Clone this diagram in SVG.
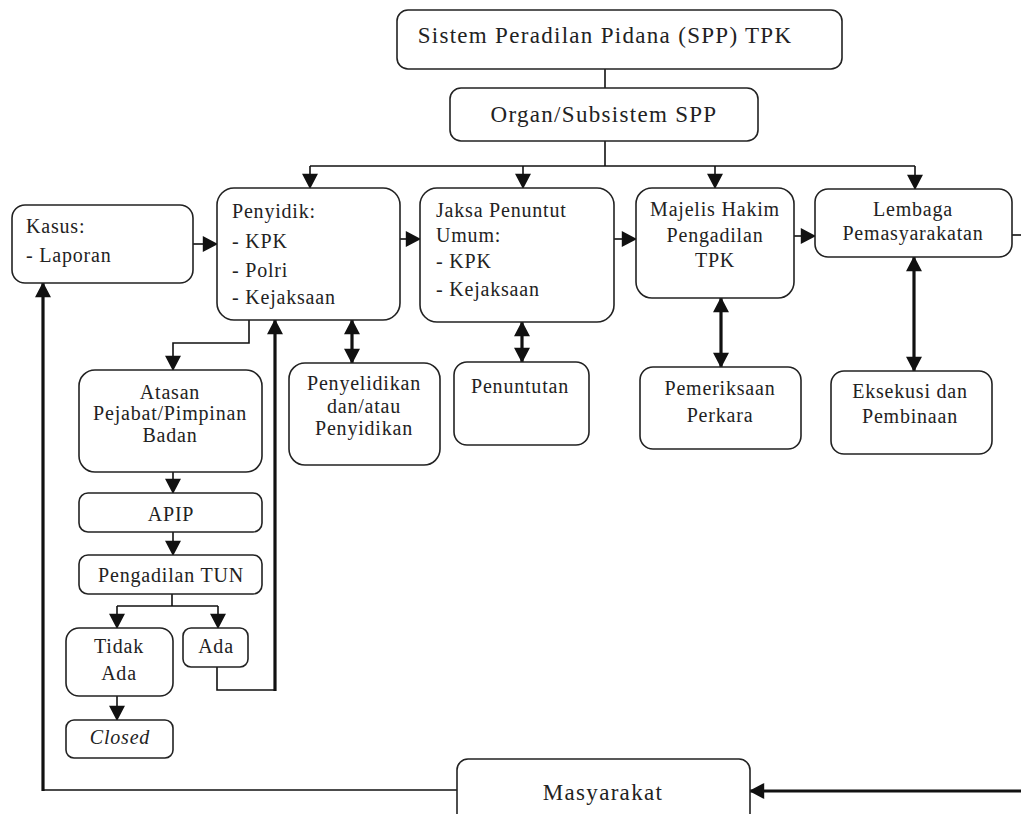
<svg xmlns="http://www.w3.org/2000/svg" width="1021" height="814" viewBox="0 0 1021 814">
<style>
.box{fill:#fff;stroke:#222;stroke-width:1.6}
.t{font-family:"Liberation Serif","Times New Roman",serif;font-size:20px;letter-spacing:0.8px;fill:#222}
.tt{font-family:"Liberation Serif","Times New Roman",serif;font-size:23px;letter-spacing:1.3px;fill:#222}
.m{text-anchor:middle}
.c{fill:none;stroke:#111;stroke-width:1.6}
.k{fill:none;stroke:#111;stroke-width:3.2}
.ahp{fill:#111;stroke:#111;stroke-width:2.4;stroke-linejoin:miter}
</style>
<defs>
<marker id="ah" markerUnits="userSpaceOnUse" markerWidth="20" markerHeight="20" refX="0" refY="0" orient="auto-start-reverse" overflow="visible">
<path class="ahp" d="M-1.5,0 L-13,-6 L-13,6 Z"/>
</marker>
</defs>
<rect width="1021" height="814" fill="#fff"/>
<g id="connectors">
<line class="c" x1="605" y1="69" x2="605" y2="88"/>
<line class="c" x1="605" y1="141" x2="605" y2="166"/>
<line class="c" x1="310" y1="166" x2="915" y2="166"/>
<line class="c" x1="310" y1="166" x2="310" y2="188" marker-end="url(#ah)"/>
<line class="c" x1="523" y1="166" x2="523" y2="188" marker-end="url(#ah)"/>
<line class="c" x1="715" y1="166" x2="715" y2="188" marker-end="url(#ah)"/>
<line class="c" x1="915" y1="166" x2="915" y2="189" marker-end="url(#ah)"/>
<line class="c" x1="193" y1="244" x2="217" y2="244" marker-end="url(#ah)"/>
<line class="c" x1="400" y1="239" x2="420" y2="239" marker-end="url(#ah)"/>
<line class="c" x1="614" y1="239" x2="636" y2="239" marker-end="url(#ah)"/>
<line class="c" x1="794" y1="236" x2="815" y2="236" marker-end="url(#ah)"/>
<line class="c" x1="1012" y1="235" x2="1021" y2="235"/>
<polyline class="c" points="249,320 249,343 173,343 173,370" marker-end="url(#ah)"/>
<line class="k" x1="352" y1="320" x2="352" y2="363" marker-start="url(#ah)" marker-end="url(#ah)"/>
<line class="k" x1="522" y1="322" x2="522" y2="362" marker-start="url(#ah)" marker-end="url(#ah)"/>
<line class="k" x1="721" y1="298" x2="721" y2="367" marker-start="url(#ah)" marker-end="url(#ah)"/>
<line class="k" x1="914" y1="257" x2="914" y2="371" marker-start="url(#ah)" marker-end="url(#ah)"/>
<line class="c" x1="173" y1="472" x2="173" y2="493" marker-end="url(#ah)"/>
<line class="c" x1="173" y1="532" x2="173" y2="555" marker-end="url(#ah)"/>
<line class="c" x1="172" y1="594" x2="172" y2="606"/>
<line class="c" x1="117" y1="606" x2="218" y2="606"/>
<line class="c" x1="117" y1="606" x2="117" y2="628" marker-end="url(#ah)"/>
<line class="c" x1="218" y1="606" x2="218" y2="628" marker-end="url(#ah)"/>
<polyline class="c" points="217,667 217,690 275,690"/>
<line class="k" x1="275" y1="691" x2="275" y2="320" marker-end="url(#ah)"/>
<line class="c" x1="117" y1="696" x2="117" y2="720" marker-end="url(#ah)"/>
<line class="c" x1="457" y1="790" x2="43" y2="790"/>
<line class="k" x1="43" y1="791" x2="43" y2="283" marker-end="url(#ah)"/>
<line class="k" x1="1021" y1="791" x2="750" y2="791" marker-end="url(#ah)"/>
</g>
<g id="sistem"><rect class="box" x="397" y="10" width="445" height="59" rx="11"/><text class="tt m" x="605" y="43">Sistem Peradilan Pidana (SPP) TPK</text></g>
<g id="organ"><rect class="box" x="450" y="88" width="308" height="53" rx="11"/><text class="tt m" x="604" y="122">Organ/Subsistem SPP</text></g>
<g id="kasus"><rect class="box" x="12" y="205" width="181" height="78" rx="13"/><text class="t" x="26" y="233">Kasus:</text><text class="t" x="26" y="262">- Laporan</text></g>
<g id="penyidik"><rect class="box" x="217" y="188" width="183" height="132" rx="17"/><text class="t" x="232" y="218">Penyidik:</text><text class="t" x="232" y="248">- KPK</text><text class="t" x="232" y="277">- Polri</text><text class="t" x="232" y="304">- Kejaksaan</text></g>
<g id="jaksa"><rect class="box" x="420" y="188" width="194" height="134" rx="17"/><text class="t" x="436" y="217">Jaksa Penuntut</text><text class="t" x="436" y="242">Umum:</text><text class="t" x="436" y="268">- KPK</text><text class="t" x="436" y="296">- Kejaksaan</text></g>
<g id="majelis"><rect class="box" x="636" y="188" width="158" height="110" rx="16"/><text class="t m" x="715" y="216">Majelis Hakim</text><text class="t m" x="715" y="242">Pengadilan</text><text class="t m" x="715" y="267">TPK</text></g>
<g id="lembaga"><rect class="box" x="815" y="189" width="197" height="68" rx="13"/><text class="t m" x="913" y="216">Lembaga</text><text class="t m" x="913" y="240">Pemasyarakatan</text></g>
<g id="atasan"><rect class="box" x="79" y="370" width="183" height="102" rx="16"/><text class="t m" x="170" y="399">Atasan</text><text class="t m" x="170" y="420">Pejabat/Pimpinan</text><text class="t m" x="170" y="442">Badan</text></g>
<g id="penyelidikan"><rect class="box" x="289" y="363" width="151" height="102" rx="16"/><text class="t m" x="364" y="390">Penyelidikan</text><text class="t m" x="364" y="413">dan/atau</text><text class="t m" x="364" y="435">Penyidikan</text></g>
<g id="penuntutan"><rect class="box" x="454" y="362" width="135" height="83" rx="13"/><text class="t m" x="520" y="393">Penuntutan</text></g>
<g id="pemeriksaan"><rect class="box" x="640" y="367" width="161" height="82" rx="13"/><text class="t m" x="720" y="395">Pemeriksaan</text><text class="t m" x="720" y="422">Perkara</text></g>
<g id="eksekusi"><rect class="box" x="831" y="371" width="161" height="83" rx="13"/><text class="t m" x="910" y="398">Eksekusi dan</text><text class="t m" x="910" y="423">Pembinaan</text></g>
<g id="apip"><rect class="box" x="79" y="493" width="183" height="39" rx="9"/><text class="t m" x="171" y="521">APIP</text></g>
<g id="tun"><rect class="box" x="79" y="555" width="183" height="39" rx="9"/><text class="t m" x="171" y="582">Pengadilan TUN</text></g>
<g id="tidakada"><rect class="box" x="66" y="628" width="107" height="68" rx="13"/><text class="t m" x="119" y="653">Tidak</text><text class="t m" x="119" y="680">Ada</text></g>
<g id="ada"><rect class="box" x="183" y="628" width="65" height="39" rx="8"/><text class="t m" x="216" y="653">Ada</text></g>
<g id="closed"><rect class="box" x="66" y="720" width="107" height="38" rx="8"/><text class="t m" x="120" y="744" font-style="italic">Closed</text></g>
<g id="masyarakat"><rect class="box" x="457" y="759" width="293" height="70" rx="11"/><text class="tt m" x="603" y="800">Masyarakat</text></g>
</svg>
